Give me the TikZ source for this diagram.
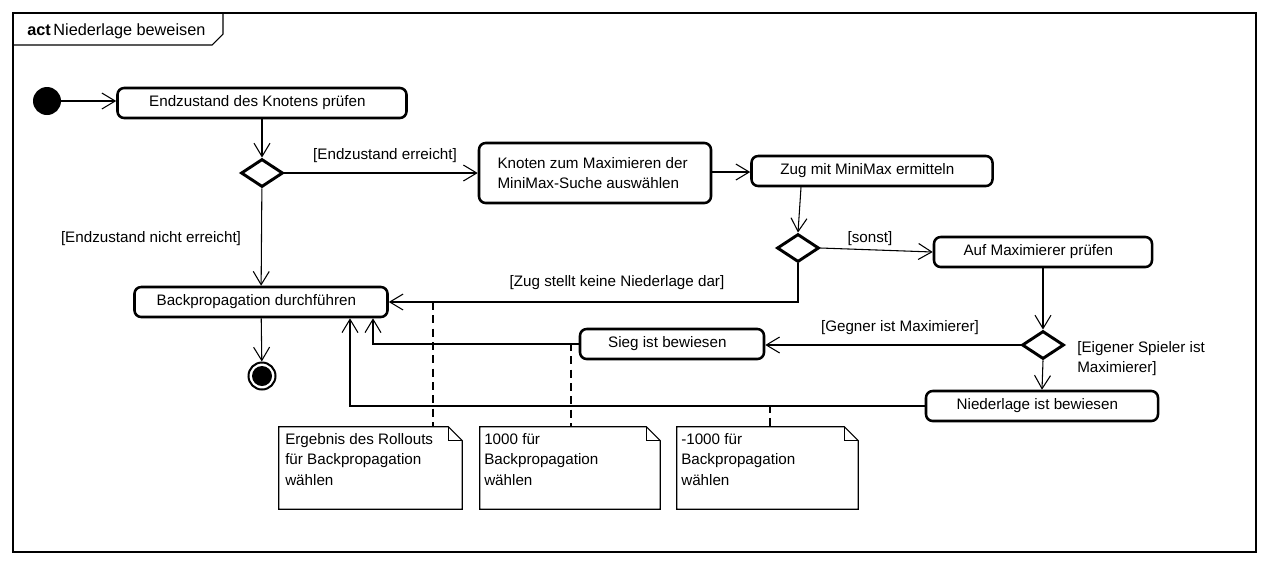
\documentclass[tikz,border=0pt]{standalone}
\usepackage{fontspec}
\setmainfont{Liberation Sans}
\usetikzlibrary{arrows.meta,shapes.geometric,calc}
\begin{document}
\begin{tikzpicture}[x=0.75pt,y=-0.75pt,
  txt/.style={font=\fontsize{11.4}{15.4}\selectfont},
  act/.style={draw, line width=1.9pt, rounded corners=5pt, minimum height=30*0.75pt, inner sep=0pt, txt},
  lshift/.style={execute at end node={\hspace*{7pt}}},
  dec/.style={draw, diamond, line width=2.2pt, minimum width=42*0.75pt, minimum height=28*0.75pt, inner sep=0pt},
  flow/.style={draw, line width=0.8pt, -{Straight Barb[length=10pt,width=12pt,line width=0.8pt]}},
  lbl/.style={txt, inner sep=0pt},
  notebox/.style={minimum height=82*0.75pt, inner sep=0pt},
  notetext/.style={txt, align=left, anchor=north west, inner sep=0pt},
  anchorline/.style={line width=0.8pt, dash pattern=on 6pt off 4pt}
]
\useasboundingbox (0,0) rectangle (1269,565);
% frame
\draw[line width=0.8pt] (13,13) rectangle (1256,552);
\draw[line width=0.8pt] (13,45) -- (212,45) -- (223,34) -- (223,13);
\node[lbl, anchor=west, font=\fontsize{12.2}{15}\selectfont] (title) at (27,31) {\textbf{act}\,Niederlage beweisen};

% nodes
\node[circle, fill=black, minimum size=28*0.75pt, inner sep=0pt] (start) at (47,101) {};
\node[act, lshift, minimum width=289*0.75pt] (a1) at (262,103) {Endzustand des Knotens prüfen};
\node[dec] (d1) at (262,173) {};
\node[act, minimum width=232*0.75pt, minimum height=60*0.75pt, align=left] (a2) at (595,173) {Knoten zum Maximieren der\\MiniMax-Suche auswählen\hspace*{10pt}};
\node[act, lshift, minimum width=241*0.75pt] (a3) at (872,171) {Zug mit MiniMax ermitteln};
\node[dec] (d2) at (798,248) {};
\node[act, lshift, minimum width=218*0.75pt] (a4) at (1043,252) {Auf Maximierer prüfen};
\node[act, lshift, minimum width=253*0.75pt] (a5) at (261,302) {Backpropagation durchführen};
\node[dec] (d3) at (1043,345) {};
\node[act, lshift, minimum width=184*0.75pt] (a6) at (672,344) {Sieg ist bewiesen};
\node[act, lshift, minimum width=232*0.75pt] (a7) at (1042,406) {Niederlage ist bewiesen};
\node[circle, draw, line width=1.5pt, minimum size=27*0.75pt, inner sep=0pt] (end) at (262,376) {};
\fill (end.center) circle (10);

% edges
\draw[flow] (start) -- (start -| a1.west);
\draw[flow] (a1) -- (d1);
\draw[flow] (d1) -- (a2);
\draw[flow] (a2.east |- 0,172) -- (a3.west |- 0,172);
\draw[flow] ([xshift=-53.25pt]a3.south) -- (d2.north);
\draw[flow] (d2.east) -- (a4.west);
\draw[flow] (d2.south) |- (a5.east);
\draw[flow] (d1) -- (a5);
\draw[flow] (a4.south) -- (d3.north);
\draw[flow] (d3.west) -- (d3.west -| a6.east);
\draw[flow] (d3.south) -- (a7.north);
\draw[flow] (a6.west) -| ([xshift=84pt]a5.south);
\draw[flow] (a7.west) -| ([xshift=66.75pt]a5.south);
\draw[flow] (a5) -- (end);

% edge labels
\node[lbl] (l1) at (385,156) {[Endzustand erreicht]};
\node[lbl] (l2) at (151,239) {[Endzustand nicht erreicht]};
\node[lbl] (l3) at (870,239) {[sonst]};
\node[lbl] (l4) at (617,283) {[Zug stellt keine Niederlage dar]};
\node[lbl] (l5) at (900,328) {[Gegner ist Maximierer]};
\node[lbl, align=left, anchor=north west] (l6) at (1077,341) {[Eigener Spieler ist\\Maximierer]};

% notes
\node[notebox, minimum width=183*0.75pt] (n1) at (370.5,468) {};
\node[notebox, minimum width=180*0.75pt] (n2) at (570,468) {};
\node[notebox, minimum width=181*0.75pt] (n3) at (767.5,468) {};
\foreach \n in {n1,n2,n3}{
  \draw[line width=0.8pt] (\n.north west) -- ([xshift=-10.5pt]\n.north east) -- ([yshift=-10.5pt]\n.north east) -- (\n.south east) -- (\n.south west) -- cycle;
  \draw[line width=0.8pt] ([xshift=-10.5pt]\n.north east) |- ([yshift=-10.5pt]\n.north east);
}
\node[notetext] (t1) at (285,433) {Ergebnis des Rollouts\\für Backpropagation\\wählen};
\node[notetext] (t2) at (484,433) {1000 für\\Backpropagation\\wählen};
\node[notetext] (t3) at (681,433) {-1000 für\\Backpropagation\\wählen};

\coordinate (c1) at (433,302);
\coordinate (c2) at (571,343);
\coordinate (c3) at (770,405);
\draw[anchorline] (c1) -- (c1 |- n1.north);
\draw[anchorline] (c2) -- (c2 |- n2.north);
\draw[anchorline] (c3) -- (c3 |- n3.north);
\end{tikzpicture}
\end{document}
